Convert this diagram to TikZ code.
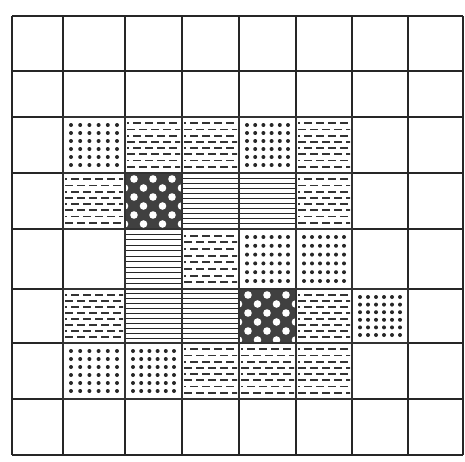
\documentclass[tikz,border=0pt]{standalone}
\usetikzlibrary{calc}
\def\xs{{12,63,125,182,239,296,352,408,463}}
\def\ys{{16,71,117,173,229,289,343,399,455}}
\tikzset{
  gridline/.style={line width=1.4pt, draw=black!85},
  blockline/.style={line width=2.2pt, draw=black!80},
  dotfill/.style={fill=black!85},
  dashrow/.style={line width=1.8pt, draw=black!80, dash pattern=on 8pt off 4pt},
  hline/.style={line width=0.9pt, draw=black!85},
  darkfill/.style={fill=black!75},
}
\newcommand\cellgeom[2]{%
  \pgfmathsetmacro\xa{\xs[#1]}%
  \pgfmathsetmacro\xb{\xs[#1+1]}%
  \pgfmathsetmacro\ya{\ys[#2]}%
  \pgfmathsetmacro\yb{\ys[#2+1]}%
  \pgfmathsetmacro\cw{\xb-\xa}%
  \pgfmathsetmacro\ch{\yb-\ya}%
}
\newcommand\dotcell[2]{%
  \cellgeom{#1}{#2}%
  \foreach \i in {0,...,5}{\foreach \j in {0,...,5}{%
    \pgfmathsetmacro\px{\xa+8+\i*(\cw-16)/5}%
    \pgfmathsetmacro\py{\ya+8+\j*(\ch-16)/5}%
    \fill[dotfill] (\px,\py) circle (2.0);}}%
  \draw[blockline] (\xa,\ya) rectangle (\xb,\yb);%
}
\newcommand\dashcell[2]{%
  \cellgeom{#1}{#2}%
  \begin{scope}
  \clip (\xa+2,\ya) rectangle (\xb-2,\yb);
  \foreach \k in {1,...,8}{%
    \pgfmathsetmacro\py{\ya+\k*\ch/9}%
    \pgfmathsetmacro\ph{mod(\k,2)*6}%
    \draw[dashrow, dash phase=\ph pt] (\xa+2,\py) -- (\xb,\py);}
  \end{scope}
  \draw[blockline] (\xa,\ya) rectangle (\xb,\yb);%
}
\newcommand\linecell[2]{%
  \cellgeom{#1}{#2}%
  \foreach \k in {1,...,10}{%
    \pgfmathsetmacro\py{\ya+\k*\ch/11}%
    \draw[hline] (\xa,\py) -- (\xb,\py);}
  \draw[blockline] (\xa,\ya) rectangle (\xb,\yb);%
}
\newcommand\crosscell[2]{%
  \cellgeom{#1}{#2}%
  \fill[darkfill] (\xa,\ya) rectangle (\xb,\yb);
  \begin{scope}
  \clip (\xa,\ya) rectangle (\xb,\yb);
  \foreach \r in {0,...,7}{\foreach \c in {-1,...,3}{%
    \pgfmathsetmacro\px{\xa+9+\c*19+mod(\r,2)*9.5}%
    \pgfmathsetmacro\py{\ya+6+\r*9}%
    \fill[white] (\px,\py) circle (3.8);}}
  \end{scope}
  \draw[blockline] (\xa,\ya) rectangle (\xb,\yb);%
}
\begin{document}
\begin{tikzpicture}[x=1pt,y=-1pt]
\useasboundingbox (0,0) rectangle (465,461);
\fill[white] (0,0) rectangle (465,461);
% grid
\foreach \i in {0,...,8}{%
  \pgfmathsetmacro\gx{\xs[\i]}%
  \draw[gridline] (\gx,16) -- (\gx,455);}
\foreach \j in {0,...,8}{%
  \pgfmathsetmacro\gy{\ys[\j]}%
  \draw[gridline] (12,\gy) -- (463,\gy);}
% row 2
\dotcell{1}{2}\dashcell{2}{2}\dashcell{3}{2}\dotcell{4}{2}\dashcell{5}{2}
% row 3
\dashcell{1}{3}\crosscell{2}{3}\linecell{3}{3}\linecell{4}{3}\dashcell{5}{3}
% row 4
\linecell{2}{4}\dashcell{3}{4}\dotcell{4}{4}\dotcell{5}{4}
% row 5
\dashcell{1}{5}\linecell{2}{5}\linecell{3}{5}\crosscell{4}{5}\dashcell{5}{5}\dotcell{6}{5}
% row 6
\dotcell{1}{6}\dotcell{2}{6}\dashcell{3}{6}\dashcell{4}{6}\dashcell{5}{6}
\end{tikzpicture}
\end{document}
